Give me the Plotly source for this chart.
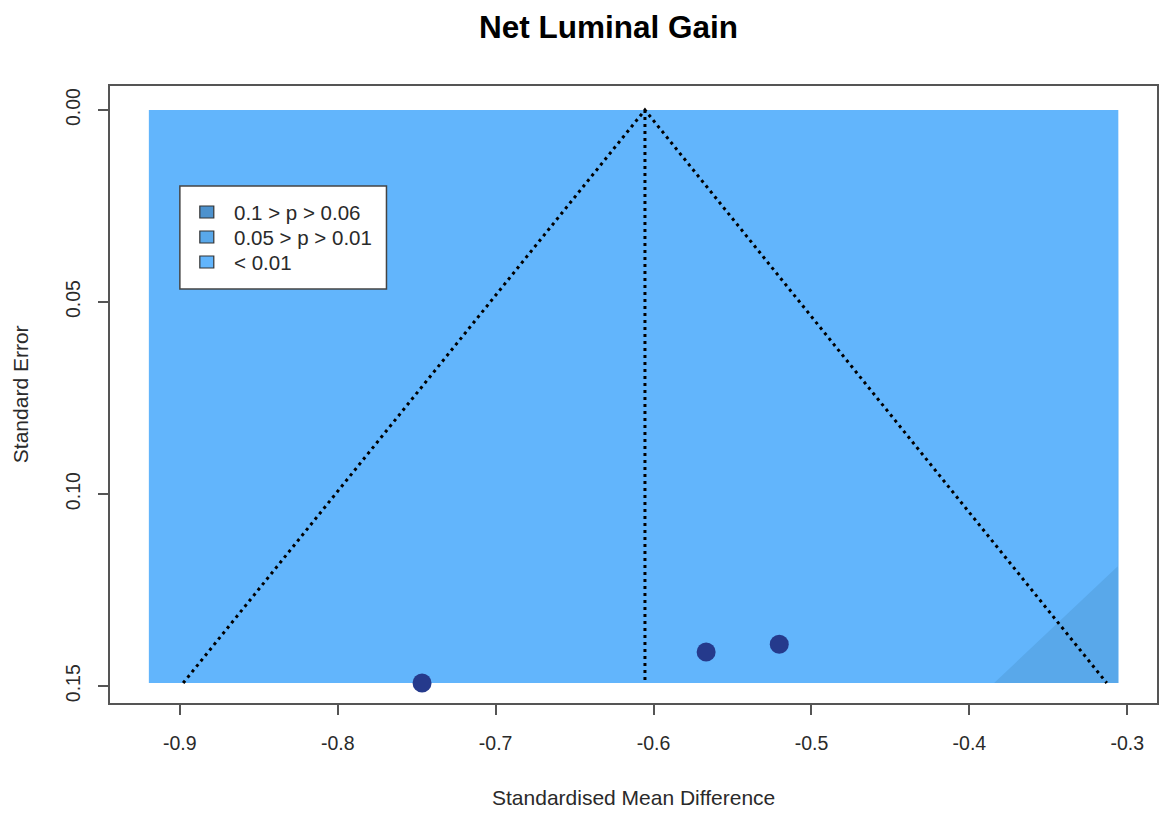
import numpy as np
import plotly.graph_objects as go

# Study effect sizes (standardised mean differences) and their standard errors
yi = [-0.7466, -0.5667, -0.5204]
sei = [0.1492, 0.1411, 0.1391]

# Axis ticks
x_ticks = [-0.9, -0.8, -0.7, -0.6, -0.5, -0.4, -0.3]
x_ticktext = ["-0.9", "-0.8", "-0.7", "-0.6", "-0.5", "-0.4", "-0.3"]
y_ticks = [0.00, 0.05, 0.10, 0.15]
y_ticktext = ["0.00", "0.05", "0.10", "0.15"]

# Contour significance levels (two-sided z) and legend labels
z_levels = [1.645, 1.960, 2.576]
legend_labels = ["0.1 > p > 0.06", "0.05 > p > 0.01", "< 0.01"]
contour_colors = ["#4d92ce", "#59a8ea", "#62b5fc"]

# Shaded plotting area limits
shade_x = [-0.9196, -0.3057]
x_range = [-0.9442, -0.2812]
y_range = [0.1544, -0.00625]

W, H = 1162, 814
ML, MR, MT, MB = 110, 3, 86, 111
PW, PH = W - ML - MR, H - MT - MB

yi_a = np.array(yi)
sei_a = np.array(sei)
w = 1 / sei_a**2
est = float(np.sum(w * yi_a) / np.sum(w))
se_max = float(sei_a.max())

FONT = "Liberation Sans, Arial, Helvetica, sans-serif"
AX = "#555555"
TXT = "#2a2a2a"

fig = go.Figure()

# Outer colour: p < 0.01
fig.add_trace(go.Scatter(
    x=[shade_x[0], shade_x[1], shade_x[1], shade_x[0], shade_x[0]],
    y=[0, 0, se_max, se_max, 0],
    fill="toself", fillcolor=contour_colors[2], line=dict(width=0),
    mode="lines", hoverinfo="skip", showlegend=False))

# Contour bands centred at zero, clipped to the shaded limits
se_grid = np.linspace(0, se_max, 600)


def band(z_lo, z_hi, color):
    for sign in (-1, 1):
        inner = np.clip(sign * z_lo * se_grid, *shade_x)
        outer = np.clip(sign * z_hi * se_grid, *shade_x)
        xs = np.concatenate([outer, inner[::-1]])
        ys = np.concatenate([se_grid, se_grid[::-1]])
        fig.add_trace(go.Scatter(
            x=xs, y=ys, fill="toself", fillcolor=color, line=dict(width=0),
            mode="lines", hoverinfo="skip", showlegend=False))


band(z_levels[0], z_levels[1], contour_colors[0])
band(z_levels[1], z_levels[2], contour_colors[1])
# inner region (p > 0.10) is white
for sign in (-1, 1):
    edge = np.clip(sign * z_levels[0] * se_grid, *shade_x)
    mid = np.clip(np.zeros_like(se_grid), *shade_x)
    fig.add_trace(go.Scatter(
        x=np.concatenate([edge, mid[::-1]]),
        y=np.concatenate([se_grid, se_grid[::-1]]),
        fill="toself", fillcolor="white", line=dict(width=0),
        mode="lines", hoverinfo="skip", showlegend=False))

# Funnel around the pooled estimate
dots = dict(color="black", width=3, dash="3px,4px")
fig.add_trace(go.Scatter(
    x=[est - 1.96 * se_max, est, est + 1.96 * se_max],
    y=[se_max, 0, se_max], mode="lines", line=dots,
    hoverinfo="skip", showlegend=False))
fig.add_trace(go.Scatter(
    x=[est, est], y=[0, se_max], mode="lines", line=dots,
    hoverinfo="skip", showlegend=False))

# Studies
fig.add_trace(go.Scatter(
    x=yi, y=sei, mode="markers",
    marker=dict(size=19, color="#253a8c", line=dict(width=0)),
    showlegend=False))


# Pixel -> paper helpers for the legend and titles
def px(x):
    return (x - ML) / PW


def py(y):
    return 1 - (y - MT) / PH


shapes = [dict(type="rect", xref="paper", yref="paper",
               x0=px(180), x1=px(387), y0=py(289), y1=py(186),
               fillcolor="white", line=dict(color="#444444", width=1.5),
               layer="above")]
annotations = []
row_y = [212, 237, 262]
for lab, col, ry in zip(legend_labels, contour_colors, row_y):
    shapes.append(dict(type="rect", xref="paper", yref="paper",
                       x0=px(200), x1=px(214), y0=py(ry + 6), y1=py(ry - 6),
                       fillcolor=col, line=dict(color="#333333", width=1.2),
                       layer="above"))
    annotations.append(dict(xref="paper", yref="paper", x=px(232), y=py(ry),
                            text=lab, showarrow=False, xanchor="left",
                            yanchor="middle",
                            font=dict(size=20.5, color=TXT, family=FONT)))

annotations.append(dict(xref="paper", yref="paper", x=px(609), y=py(27),
                        text="<b>Net Luminal Gain</b>", showarrow=False,
                        xanchor="center", yanchor="middle",
                        font=dict(size=31.5, color="black", family=FONT)))
annotations.append(dict(xref="paper", yref="paper", x=px(634), y=py(797),
                        text="Standardised Mean Difference", showarrow=False,
                        xanchor="center", yanchor="middle",
                        font=dict(size=21, color=TXT, family=FONT)))
annotations.append(dict(xref="paper", yref="paper", x=px(20), y=py(394),
                        text="Standard Error", showarrow=False, textangle=-90,
                        xanchor="center", yanchor="middle",
                        font=dict(size=21, color=TXT, family=FONT)))

fig.update_layout(
    width=W, height=H,
    margin=dict(l=ML, r=MR, t=MT, b=MB),
    paper_bgcolor="white", plot_bgcolor="white",
    shapes=shapes, annotations=annotations,
    font=dict(family=FONT, color=TXT),
    xaxis=dict(range=x_range, tickvals=x_ticks, ticktext=x_ticktext,
               showgrid=False, zeroline=False, showline=True, mirror=True,
               linecolor=AX, linewidth=1.5, ticks="outside", ticklen=10,
               tickcolor=AX, tickwidth=1.5, ticklabelstandoff=12,
               tickfont=dict(size=19.5, color=TXT)),
    yaxis=dict(range=y_range, tickvals=y_ticks, ticktext=y_ticktext,
               showgrid=False, zeroline=False, showline=True, mirror=True,
               linecolor=AX, linewidth=1.5, ticks="outside", ticklen=10,
               tickcolor=AX, tickwidth=1.5, tickangle=-90,
               ticklabelstandoff=10,
               tickfont=dict(size=19.5, color=TXT)),
)

fig.write_html("out.html")
